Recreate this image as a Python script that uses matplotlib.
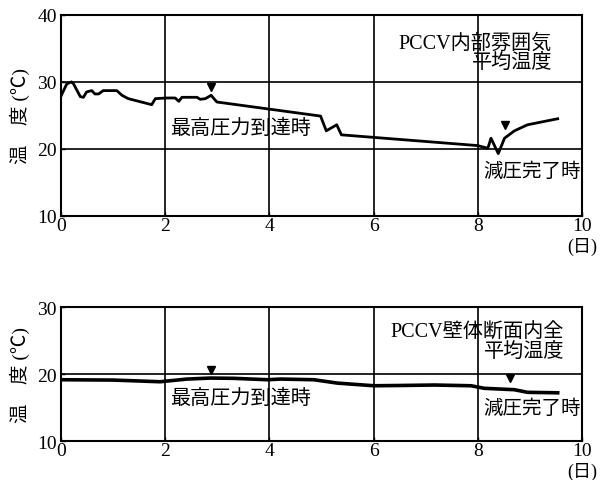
import matplotlib
matplotlib.use("Agg")
import matplotlib.pyplot as plt

plt.rcParams['font.family'] = ['Liberation Serif', 'Noto Sans CJK JP', 'DejaVu Sans']

# PCCV内部雰囲気 平均温度 (day, degC)
atm_day = [0, 0.11, 0.2, 0.24, 0.37, 0.43, 0.49, 0.59, 0.65, 0.72, 0.81, 1.07, 1.17,
           1.29, 1.74, 1.81, 2.03, 2.19, 2.26, 2.32, 2.61, 2.67, 2.77, 2.88, 2.99,
           4.98, 5.09, 5.29, 5.38, 7.99, 8.19, 8.25, 8.39, 8.51, 8.70, 8.95, 9.53]
atm_temp = [27.9, 29.7, 30.0, 29.7, 27.8, 27.7, 28.5, 28.7, 28.2, 28.2, 28.7, 28.7, 28.0,
            27.5, 26.6, 27.5, 27.6, 27.6, 27.1, 27.7, 27.7, 27.4, 27.5, 28.0, 27.0,
            24.9, 22.7, 23.6, 22.1, 20.5, 20.1, 21.6, 19.3, 21.6, 22.7, 23.6, 24.5]
atm_mark_day = [2.88, 8.52]
atm_mark_temp = [29.2, 23.5]

# PCCV壁体断面内全 平均温度
wall_day = [0, 1.0, 1.9, 2.42, 2.87, 3.31, 3.96, 4.21, 4.85, 5.3, 6.0, 6.6, 7.16,
            7.87, 8.12, 8.7, 8.95, 9.53]
wall_temp = [19.15, 19.1, 18.85, 19.25, 19.4, 19.36, 19.15, 19.25, 19.15, 18.65, 18.25,
             18.3, 18.36, 18.25, 17.87, 17.66, 17.27, 17.2]
wall_mark_day = [2.87, 8.62]
wall_mark_temp = [20.6, 19.4]

xticks = [0, 2, 4, 6, 8, 10]

fig = plt.figure(figsize=(6.06, 4.81), dpi=100)
ax1 = fig.add_axes([0.1007, 0.549, 0.86, 0.418])
ax2 = fig.add_axes([0.1007, 0.081, 0.86, 0.2786])


def style(ax, ylim, yticks):
    ax.set_xlim(0, 10)
    ax.set_ylim(*ylim)
    ax.set_xticks(xticks)
    ax.set_yticks(yticks)
    ax.tick_params(direction='in', length=3, width=1, labelsize=14)
    ax.tick_params(axis='x', pad=1)
    ax.tick_params(axis='y', pad=3)
    for s in ax.spines.values():
        s.set_linewidth(1.5)
    for x in xticks[1:-1]:
        ax.axvline(x, color='black', lw=1.2, zorder=1)
    for y in yticks[1:-1]:
        ax.axhline(y, color='black', lw=1.2, zorder=1)
    ax.set_ylabel('温　度 (℃)', fontsize=14, labelpad=5)
    # day unit under the last x tick
    ax.annotate('(日)', xy=(1.0, 0), xycoords='axes fraction',
                xytext=(0, -21.5), textcoords='offset points',
                ha='center', va='center', fontsize=13)


style(ax1, (10, 40), [10, 20, 30, 40])
ax1.plot(atm_day, atm_temp, color='black', lw=2, zorder=3)
ax1.plot(atm_mark_day, atm_mark_temp, 'v', color='black', ms=6, zorder=4)
ax1.text(9.42, 34.4, 'PCCV内部雰囲気\n平均温度', ha='right', va='center',
         fontsize=14.5, linespacing=1.0)
ax1.text(2.1, 23.0, '最高圧力到達時', ha='left', va='center', fontsize=14.5)
ax1.text(8.1, 16.7, '減圧完了時', ha='left', va='center', fontsize=14)

style(ax2, (10, 30), [10, 20, 30])
ax2.plot(wall_day, wall_temp, color='black', lw=2.6, zorder=3)
ax2.plot(wall_mark_day, wall_mark_temp, 'v', color='black', ms=6, zorder=4)
ax2.text(9.65, 24.8, 'PCCV壁体断面内全\n平均温度', ha='right', va='center',
         fontsize=14.5, linespacing=1.0)
ax2.text(2.1, 16.4, '最高圧力到達時', ha='left', va='center', fontsize=14.5)
ax2.text(8.1, 14.9, '減圧完了時', ha='left', va='center', fontsize=14)

fig.savefig('out.png', dpi=100)
